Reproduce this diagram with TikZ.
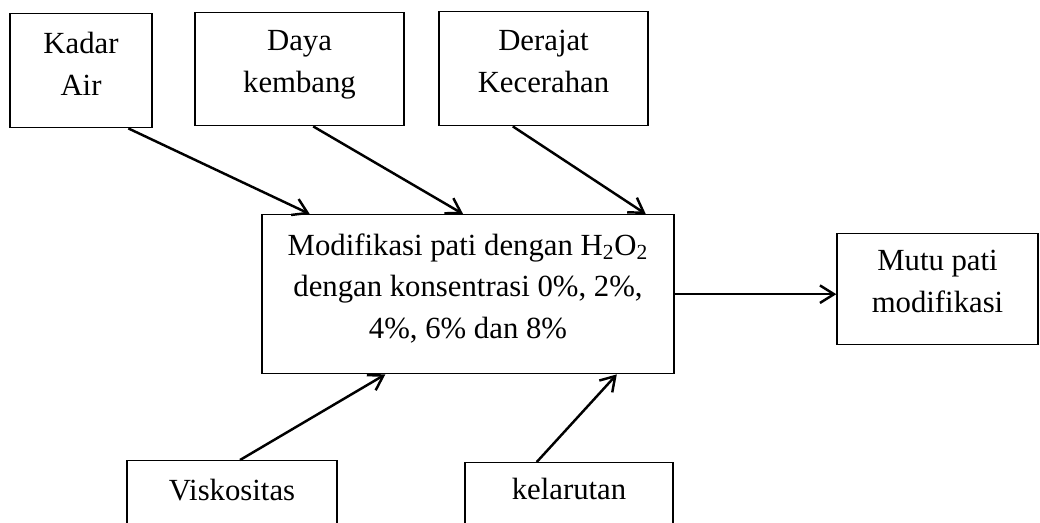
\documentclass[tikz,border=0pt]{standalone}
\usepackage{fontspec}
\setmainfont{Liberation Serif}
\usetikzlibrary{arrows.meta,calc}
\begin{document}
\begin{tikzpicture}[x=0.02cm,y=-0.02cm,
    kotak/.style={draw,line width=0.8pt,inner sep=0pt,anchor=north,align=center,
      font=\fontsize{17.5}{23.8}\selectfont},
    panah/.style={line width=1.4pt,-{Straight Barb[length=8pt,width=10pt]}}]
  \clip (0,0) rectangle (1040,523);
  % kotak atas
  \node[kotak,minimum width=2.84cm,text height=1.64cm,text depth=0.64cm] (kadar) at (81,13) {Kadar\\Air};
  \node[kotak,minimum width=4.18cm,text height=1.6cm,text depth=0.66cm] (daya) at (299.5,12) {Daya\\kembang};
  \node[kotak,minimum width=4.18cm,text height=1.62cm,text depth=0.66cm] (derajat) at (543.5,11) {Derajat\\Kecerahan};
  % kotak tengah
  \node[kotak,minimum width=8.24cm,text height=2.48cm,text depth=0.7cm] (modif) at (468,214)
    {Modifikasi pati dengan H\textsubscript{2}O\textsubscript{2}\\dengan konsentrasi 0\%, 2\%,\\4\%, 6\% dan 8\%};
  \node[kotak,minimum width=4.02cm,text height=1.58cm,text depth=0.64cm] (mutu) at (937.5,233) {Mutu pati\\modifikasi};
  % kotak bawah
  \node[kotak,minimum width=4.2cm,text height=0.8cm,text depth=2cm] (visko) at (232,460) {Viskositas};
  \node[kotak,minimum width=4.16cm,text height=0.74cm,text depth=2cm] (larut) at (569,462) {kelarutan};
  % panah
  \draw[panah] ($(kadar.south west)!0.83!(kadar.south east)$) -- ($(modif.north west)!0.117!(modif.north east)$);
  \draw[panah] ($(daya.south west)!0.565!(daya.south east)$) -- ($(modif.north west)!0.488!(modif.north east)$);
  \draw[panah] ($(derajat.south west)!0.354!(derajat.south east)$) -- ($(modif.north west)!0.93!(modif.north east)$);
  \draw[panah] (modif.east) -- (mutu.west |- modif.east);
  \draw[panah] ($(visko.north west)!0.538!(visko.north east)$) -- ($(modif.south west)!0.3!(modif.south east)$);
  \draw[panah] ($(larut.north west)!0.346!(larut.north east)$) -- ($(modif.south west)!0.86!(modif.south east)$);
\end{tikzpicture}
\end{document}
